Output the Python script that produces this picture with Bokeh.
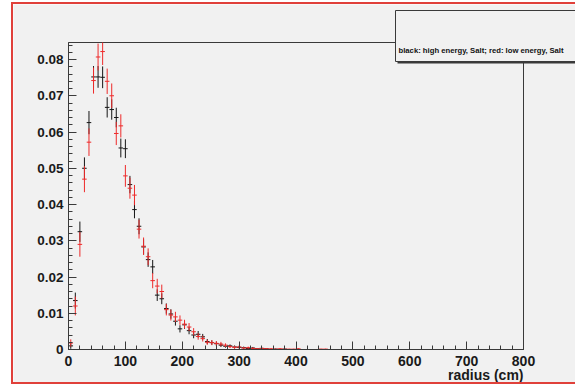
from bokeh.plotting import figure
from bokeh.models import (ColumnDataSource, Range1d, SingleIntervalTicker, CustomJSTickFormatter,
                          Label, BoxAnnotation)
from bokeh.embed import file_html
from bokeh.resources import INLINE

# ---------------- data ----------------
bin_width_cm = 8
radius_cm = [4, 12, 20, 28, 36, 44, 52, 60, 68, 76,
             84, 92, 100, 108, 116, 124, 132, 140, 148, 156,
             164, 172, 180, 188, 196, 204, 212, 220, 228, 236,
             244, 252, 260, 268, 276, 284, 292, 300, 308, 316,
             324, 332, 340, 348, 356, 364, 372, 380, 388, 396,
             404, 412, 420, 428, 436, 444, 452]

high_energy = [0.0010, 0.0135, 0.0325, 0.0500, 0.0626, 0.0752, 0.0752, 0.0751, 0.0668, 0.0662,
               0.0640, 0.0556, 0.0554, 0.0455, 0.0386, 0.0340, 0.0283, 0.0248, 0.0228, 0.0150,
               0.0140, 0.0113, 0.0098, 0.0078, 0.0057, 0.0068, 0.0052, 0.0040, 0.0042, 0.0035,
               0.0022, 0.0019, 0.0016, 0.0012, 0.0009, 0.0010, 0.0007, 0.0006, 0.0005, 0.0003,
               0.0004, 0.0002, 0.0003, 0.0002, 0.0, 0.0001, 0.0, 0.0001, 0.0, 0.0,
               0.0, 0.0, 0.0, 0.0, 0.0, 0.0, 0.0]
high_energy_err = [0.0008, 0.0022, 0.0028, 0.0030, 0.0032, 0.0030, 0.0030, 0.0030, 0.0028, 0.0028,
                   0.0027, 0.0026, 0.0026, 0.0024, 0.0024, 0.0022, 0.0021, 0.0020, 0.0019, 0.0016,
                   0.0015, 0.0014, 0.0013, 0.0012, 0.0010, 0.0011, 0.0010, 0.0009, 0.0009, 0.0008,
                   0.0007, 0.0006, 0.0006, 0.0005, 0.0004, 0.0004, 0.0004, 0.0003, 0.0003, 0.0002,
                   0.0003, 0.0002, 0.0002, 0.0002, 0.0, 0.0001, 0.0, 0.0001, 0.0, 0.0,
                   0.0, 0.0, 0.0, 0.0, 0.0, 0.0, 0.0]

low_energy = [0.0018, 0.0120, 0.0290, 0.0470, 0.0572, 0.0742, 0.0807, 0.0822, 0.0740, 0.0700,
              0.0596, 0.0617, 0.0479, 0.0445, 0.0426, 0.0332, 0.0285, 0.0256, 0.0190, 0.0175,
              0.0160, 0.0110, 0.0095, 0.0090, 0.0081, 0.0070, 0.0062, 0.0049, 0.0036, 0.0030,
              0.0020, 0.0019, 0.0017, 0.0015, 0.0012, 0.0008, 0.0006, 0.0007, 0.0004, 0.0005,
              0.0003, 0.0002, 0.0003, 0.0002, 0.0002, 0.0001, 0.0002, 0.0001, 0.0001, 0.0001,
              0.0002, 0.0, 0.0, 0.0, 0.0, 0.0001, 0.0001]
low_energy_err = [0.0010, 0.0026, 0.0034, 0.0036, 0.0038, 0.0036, 0.0037, 0.0037, 0.0035, 0.0034,
                  0.0032, 0.0032, 0.0030, 0.0029, 0.0028, 0.0026, 0.0024, 0.0023, 0.0021, 0.0020,
                  0.0019, 0.0016, 0.0015, 0.0014, 0.0013, 0.0012, 0.0011, 0.0010, 0.0009, 0.0008,
                  0.0007, 0.0007, 0.0006, 0.0006, 0.0005, 0.0004, 0.0004, 0.0004, 0.0003, 0.0003,
                  0.0003, 0.0002, 0.0002, 0.0002, 0.0002, 0.0001, 0.0002, 0.0001, 0.0001, 0.0001,
                  0.0002, 0.0, 0.0, 0.0, 0.0, 0.0001, 0.0001]

x_min, x_max = 0, 800
y_min, y_max = 0.0, 0.0847
x_ticks_interval = 100
y_ticks_interval = 0.01
legend_text = "black: high energy, Salt; red: low energy, Salt"
x_title = "radius (cm)"

FONT = "Liberation Sans"
BG = "#f1f1f1"
FRAME = "#3a3a3a"

# canvas 564x382; the data frame (0..800, 0..y_max) sits at canvas x 55..510, y 38..345
W, H = 564, 382
FL, FR, FT, FB = 55, 510, 38, 345
xs_per_px = (x_max - x_min) / (FR - FL)
ys_per_px = (y_max - y_min) / (FB - FT)

p = figure(width=W, height=H, output_backend="svg", toolbar_location=None, title=None,
           x_range=Range1d(x_min - FL * xs_per_px, x_max + (W - FR) * xs_per_px),
           y_range=Range1d(y_min - (H - FB) * ys_per_px, y_max + FT * ys_per_px),
           min_border_left=0, min_border_right=0, min_border_top=0, min_border_bottom=0)
p.styles = {"margin-left": "11px", "margin-top": "2px", "border-left": "2px solid #e0403a",
            "border-top": "2px solid #e0403a", "border-bottom": "2px solid #e0403a"}
p.background_fill_color = BG
p.border_fill_color = BG
p.outline_line_color = None
p.xgrid.visible = False
p.ygrid.visible = False

# frame box of the histogram
p.add_layout(BoxAnnotation(left=x_min, right=x_max, bottom=y_min, top=y_max,
                           fill_alpha=0, line_color=FRAME, line_alpha=1.0, line_width=1,
                           level="underlay"))


def add_series(vals, errs, color):
    xs, ys, e = [], [], []
    for r, v, er in zip(radius_cm, vals, errs):
        if v > 0:
            xs.append(r); ys.append(v); e.append(er)
    src = ColumnDataSource(dict(
        x=xs, y=ys,
        x0=[r - bin_width_cm / 2 for r in xs], x1=[r + bin_width_cm / 2 for r in xs],
        y0=[max(v - er, y_min) for v, er in zip(ys, e)],
        y1=[min(v + er, y_max) for v, er in zip(ys, e)]))
    p.segment(x0="x", y0="y0", x1="x", y1="y1", source=src, line_color=color, line_width=1)
    p.segment(x0="x0", y0="y", x1="x1", y1="y", source=src, line_color=color, line_width=1)


add_series(high_energy, high_energy_err, "#151515")
add_series(low_energy, low_energy_err, "#ee2a2a")

# axes, pinned at the histogram origin
xa = p.xaxis[0]
xa.ticker = SingleIntervalTicker(interval=x_ticks_interval, num_minor_ticks=5)
xa.fixed_location = 0
xa.bounds = (x_min, x_max)
ya = p.yaxis[0]
ya.ticker = SingleIntervalTicker(interval=y_ticks_interval, num_minor_ticks=5)
ya.formatter = CustomJSTickFormatter(code="return Math.abs(tick) < 1e-9 ? '0' : tick.toFixed(2);")
ya.fixed_location = 0
ya.bounds = (y_min, y_max)
for ax, fs in ((xa, "14px"), (ya, "13.5px")):
    ax.axis_line_color = FRAME
    ax.major_tick_line_color = FRAME
    ax.minor_tick_line_color = FRAME
    ax.major_tick_in = 8
    ax.major_tick_out = 0
    ax.minor_tick_in = 4
    ax.minor_tick_out = 0
    ax.major_label_text_font = FONT
    ax.major_label_text_font_style = "bold"
    ax.major_label_text_font_size = fs
    ax.major_label_text_color = "#1a1a1a"
xa.major_label_standoff = 6
ya.major_label_standoff = 5

# x-axis title, right aligned under the frame
p.add_layout(Label(x=x_max, y=y_min - 25.5 * ys_per_px, text=x_title,
                   text_align="right", text_baseline="middle",
                   text_font=FONT, text_font_style="bold", text_font_size="14px",
                   text_color="#1a1a1a"))

# legend box with shadow (canvas pixel units)
p.add_layout(BoxAnnotation(left=382, right=562, top=6, bottom=57,
                           left_units="canvas", right_units="canvas",
                           top_units="canvas", bottom_units="canvas",
                           fill_color=FRAME, fill_alpha=1.0, line_color=None))
p.add_layout(BoxAnnotation(left=380, right=560, top=4, bottom=55,
                           left_units="canvas", right_units="canvas",
                           top_units="canvas", bottom_units="canvas",
                           fill_color=BG, fill_alpha=1.0, line_color=FRAME, line_alpha=1.0,
                           line_width=1))
p.add_layout(Label(x=383, y=44, x_units="canvas", y_units="canvas", text=legend_text,
                   text_align="left", text_baseline="middle",
                   text_font=FONT, text_font_style="bold", text_font_size="7.7px",
                   text_color="#111111"))

open("out.html", "w").write(file_html(p, INLINE))
